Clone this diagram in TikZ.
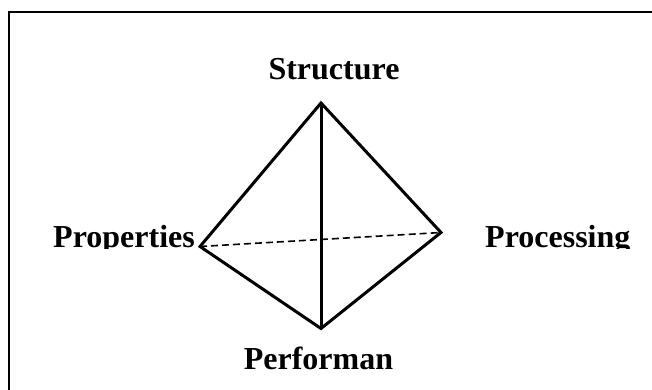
\documentclass[tikz,border=0pt]{standalone}
\usepackage{fontspec}
\setmainfont{Liberation Serif}

\begin{document}
\begin{tikzpicture}[x=1pt, y=-1pt,
		corner/.style={font=\fontsize{32}{38}\selectfont\bfseries, inner sep=0pt},
		edge/.style={line width=3pt, line join=miter}]
		\clip (0, 0) rectangle (652, 390);
		\draw[line width=1.8pt] (8.7, 400) -- (8.7, 11.7) -- (660, 11.7);
		
		\coordinate (top) at (321, 103);
		\coordinate (left) at (200, 246.5);
		\coordinate (right) at (441, 232.5);
		\coordinate (bottom) at (321, 328.5);
		
		\draw[edge] (left) -- (top) -- (right) -- (bottom) -- cycle;
		\draw[edge] (top) -- (bottom);
		\draw[line width=1.6pt, dash pattern=on 7pt off 4pt] (left) -- (right);
		
		\node[corner, anchor=base] (structure) at (334, 80) {Structure};
		\node[corner, anchor=base] (performan) at (318.5, 369) {Performan};
		
		\begin{scope}
			\clip (0, 0) rectangle (652, 248.5);
			\node[corner, anchor=base east] (properties) at (195, 247.5) {Properties};
			\node[corner, anchor=base west] (processing) at (485, 247) {Processing};
		\end{scope}
	\end{tikzpicture}
\end{document}
